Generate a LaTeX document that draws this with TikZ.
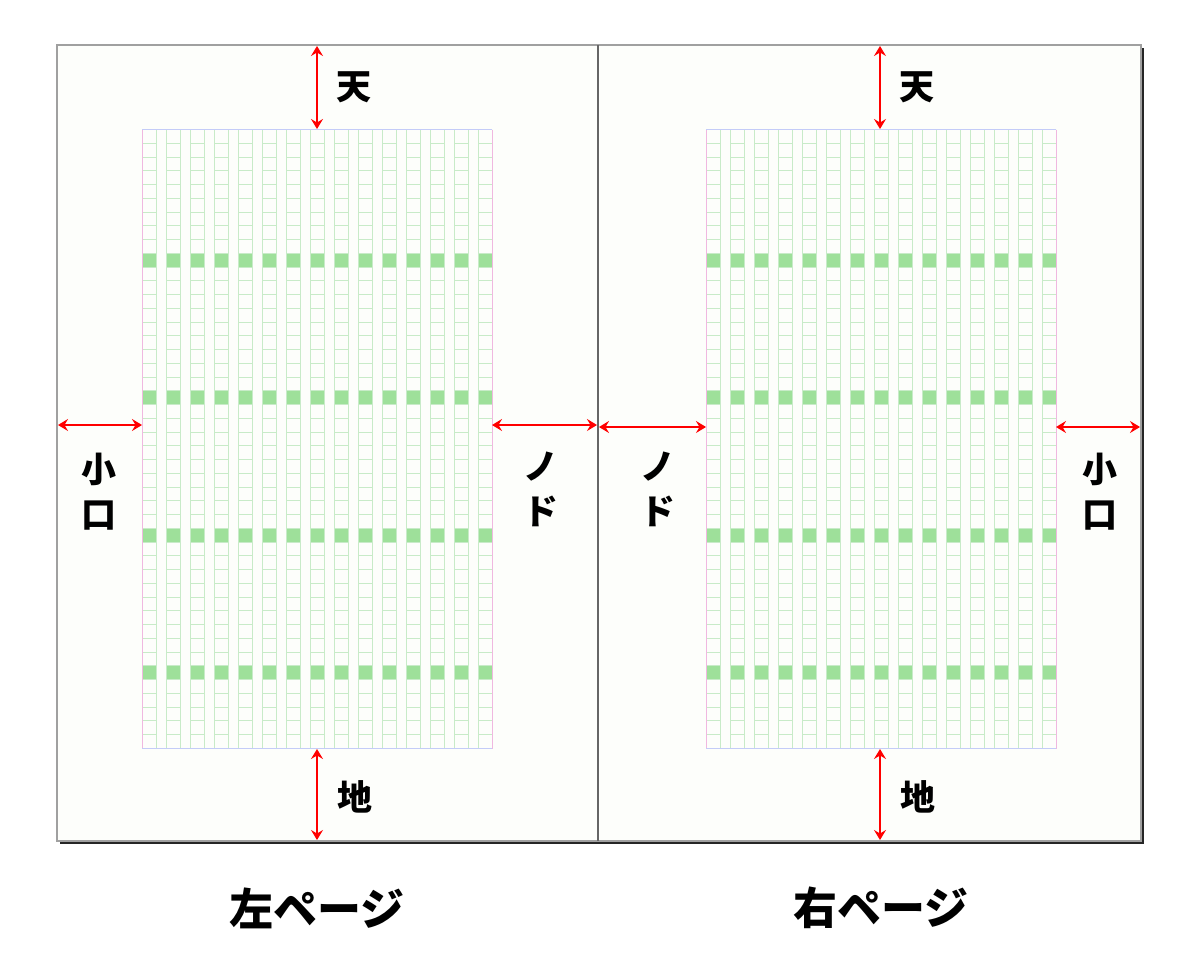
\documentclass[tikz,border=0pt]{standalone}
\usepackage{fontspec}
\newfontfamily\cjk{Noto Sans CJK JP}
\usetikzlibrary{arrows.meta}
\definecolor{gridgreen}{HTML}{C8EBC8}
\definecolor{cellgreen}{HTML}{9EE09A}
\definecolor{pinkline}{HTML}{F0B8E0}
\definecolor{lavline}{HTML}{C4CCF8}
\definecolor{pagefill}{HTML}{FDFEFB}
\definecolor{framegray}{HTML}{A0A0A0}
\definecolor{divider}{HTML}{666666}
\begin{document}
\begin{tikzpicture}[x=1pt,y=-1pt,
  gline/.style={draw=gridgreen, line width=1pt},
  dimarrow/.style={red, line width=2pt,
    {Stealth[length=10pt,width=12pt,inset=3.5pt]}-{Stealth[length=10pt,width=12pt,inset=3.5pt]}},
  lab/.style={font=\cjk\bfseries\fontsize{35}{45}\selectfont, inner sep=0pt, align=center},
  captxt/.style={font=\cjk\bfseries\fontsize{44}{44}\selectfont, inner sep=0pt}]
\fill[white] (0,0) rectangle (1200,969);
\useasboundingbox (0,0) rectangle (1200,969);
% page shadow and frame
\fill[black!85] (60,48) rectangle (1143.5,844);
\filldraw[fill=pagefill, draw=framegray, line width=1.2pt] (57,45) rectangle (1141,841);
\draw[divider, line width=1.6pt] (598,45) -- (598,841);
% grids
\def\rh{13.7556}
\foreach \g in {142,706}{
  \foreach \i in {0,...,14}{
    \pgfmathsetmacro\xo{\g+24*\i}
    \foreach \r in {9,19,29,39}{
      \fill[cellgreen] (\xo,129.5+\r*\rh) rectangle ++(14,\rh);
    }
    \foreach \r in {1,...,44}{
      \draw[gline] (\xo,129.5+\r*\rh) -- ++(14,0);
    }
    \draw[gline] (\xo,129.5) -- (\xo,748.5);
    \draw[gline] (\xo+14,129.5) -- (\xo+14,748.5);
  }
  \draw[pinkline, line width=1pt] (\g,129.5) -- (\g,748.5);
  \draw[pinkline, line width=1pt] (\g+350,129.5) -- (\g+350,748.5);
  \draw[lavline, line width=1.2pt] (\g,129.5) -- (\g+350,129.5);
  \draw[lavline, line width=1.2pt] (\g,748.5) -- (\g+350,748.5);
}
% arrow end points
\coordinate (LT1) at (317,46);   \coordinate (LT2) at (317,129);
\coordinate (LB1) at (317,749);  \coordinate (LB2) at (317,840);
\coordinate (RT1) at (880,46);   \coordinate (RT2) at (880,129);
\coordinate (RB1) at (880,749);  \coordinate (RB2) at (880,840);
\coordinate (LL1) at (58,425);   \coordinate (LL2) at (142,425);
\coordinate (LR1) at (492,425);  \coordinate (LR2) at (597,425);
\coordinate (RL1) at (599,427);  \coordinate (RL2) at (706,427);
\coordinate (RR1) at (1056,427); \coordinate (RR2) at (1140,427);
\foreach \a/\b in {LT1/LT2,LB1/LB2,RT1/RT2,RB1/RB2,LL1/LL2,LR1/LR2,RL1/RL2,RR1/RR2}
  \draw[dimarrow] (\a) -- (\b);
% labels
\node[lab] (lten) at (354,87) {天};
\node[lab] (lchi) at (355,797) {地};
\node[lab] (rten) at (917,87) {天};
\node[lab] (rchi) at (918,797) {地};
\node[lab] (lkoguchi) at (99,492) {小\\口};
\node[lab] (lnodo) at (541,489) {ノ\\ド};
\node[lab] (rnodo) at (658,489) {ノ\\ド};
\node[lab] (rkoguchi) at (1100,492) {小\\口};
\node[captxt] (lcap) at (317,908) {左ページ};
\node[captxt] (rcap) at (881,908) {右ページ};
\end{tikzpicture}
\end{document}
